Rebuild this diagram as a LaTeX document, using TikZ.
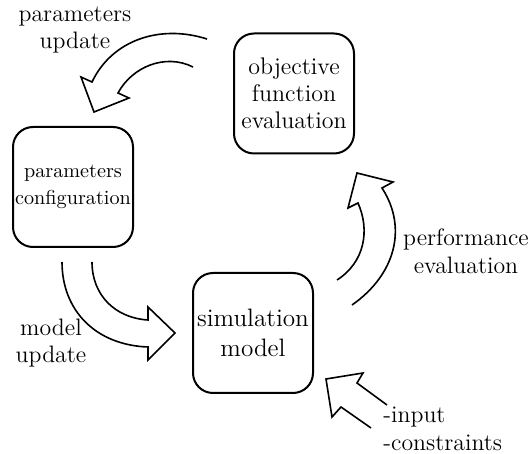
\documentclass[tikz,border=0pt]{standalone}
\usepackage{fontspec}
\begin{document}
\begin{tikzpicture}[x=0.5pt,y=-0.5pt,
  box/.style={draw, line width=1pt, rounded corners=10pt, minimum width=60pt, minimum height=60pt, align=center, inner sep=0pt},
  lbl/.style={align=center, inner sep=0pt, font=\fontsize{11.9}{13.5}\selectfont},
  bigarrow/.style={line width=0.8pt, line join=miter}]
\useasboundingbox (0,0) rectangle (531,454);
% boxes
\node[box, font=\fontsize{12}{13.5}\selectfont] (obj) at (294,93.5) {objective\\function\\evaluation};
\node[box, font=\fontsize{10.1}{13.5}\selectfont] (conf) at (73,187) {parameters\\configuration};
\node[box, font=\fontsize{12.6}{15}\selectfont] (sim) at (253,333) {simulation\\model};
% labels
\node[lbl] (lpu) at (75,30) {parameters\\update};
\node[lbl] (lmu) at (51,343.5) {model\\update};
\node[lbl, font=\fontsize{11.9}{14}\selectfont] (lpe) at (466,251) {performance\\evaluation};
\node[lbl, align=left, anchor=west, font=\fontsize{11.9}{14}\selectfont] (lin) at (383,429) {-input\\-constraints};
% arrow: parameters update
\draw[bigarrow] (207,39) .. controls (160,24) and (112,40) .. (92,82)
  -- (81,77) -- (94,112) -- (129,98) -- (118,93)
  .. controls (132,67) and (165,53) .. (193,67);
% arrow: model update
\draw[bigarrow] (62,262) .. controls (62,310) and (95,345) .. (148,347)
  -- (148,360) -- (175,333) -- (148,307) -- (148,320)
  .. controls (115,318) and (92,295) .. (92,262);
% arrow: performance evaluation
\draw[bigarrow] (352,305) .. controls (395,275) and (408,228) .. (382,188)
  -- (393,182) -- (357,173) -- (348,208) -- (358,203)
  .. controls (370,230) and (365,262) .. (337,280);
% arrow: input
\draw[bigarrow] (387,405) -- (357,383) -- (363,373) -- (326,379) -- (332,417) -- (341,407) -- (371,428);
\end{tikzpicture}
\end{document}
